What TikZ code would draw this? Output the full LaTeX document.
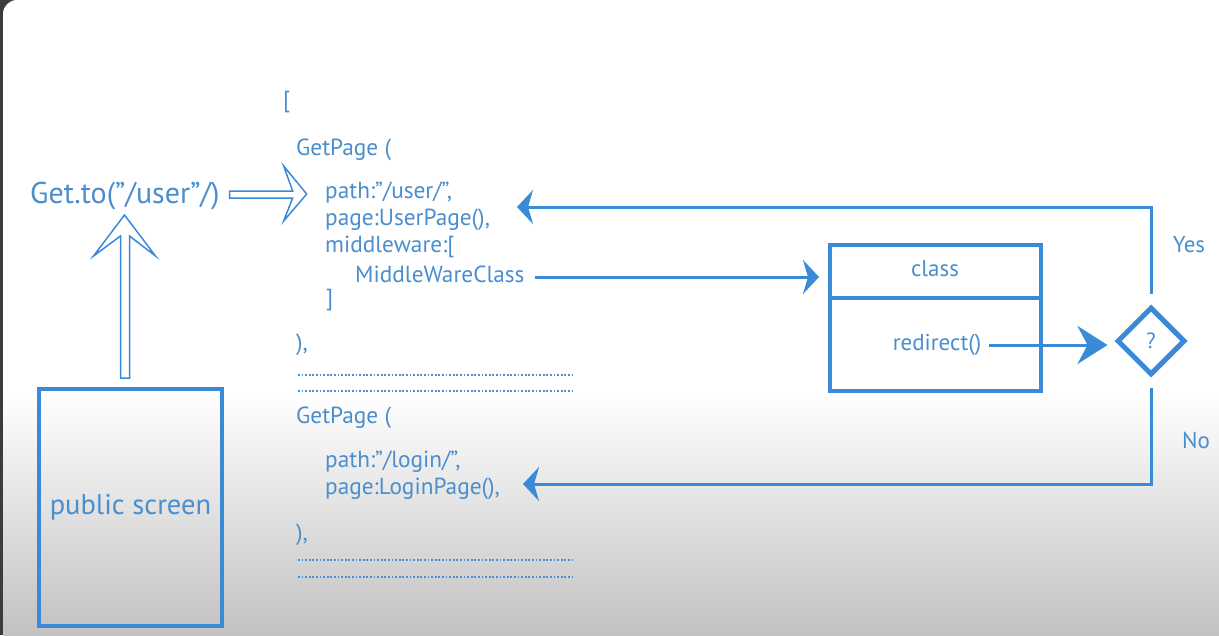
\documentclass[tikz,border=0pt]{standalone}
\usepackage{fontspec}
\setmainfont{PT Sans}
\usetikzlibrary{arrows.meta,shapes.geometric}

\definecolor{codeblue}{HTML}{4A8ECF}
\definecolor{lineblue}{HTML}{3A8AD8}
\definecolor{framegray}{HTML}{3C3C3C}

\newcommand\codefont{\fontsize{23.3}{27}\selectfont}

\tikzset{
  code/.style={anchor=west, inner sep=0pt, text=codeblue, font=\codefont},
  lbl/.style={inner sep=0pt, text=codeblue, font=\fontsize{23}{26}\selectfont},
  arr/.style={draw=lineblue, line width=3pt, -{Stealth[length=16pt,width=34pt,inset=5pt]}},
  bigarr/.style={draw=lineblue, line width=3pt, -{Stealth[length=30pt,width=38pt,inset=10pt]}},
  hollow/.style={draw=lineblue, line width=1.5pt, line join=miter},
  dots/.style={draw=codeblue, line width=2.2pt, dash pattern=on 1.8pt off 1.8pt},
}

\begin{document}
\begin{tikzpicture}[x=1pt,y=-1pt]
    \useasboundingbox (0,0) rectangle (1219,635);
    %% background of the screen
    \fill[framegray] (0,0) rectangle (20,635);
    \fill[white] (3,635) {[rounded corners=14pt] -- (3,0) -- (1219,0)} -- (1219,635) -- cycle;
    \shade[top color=white, bottom color=black!24] (3,395) rectangle (1219,635);

    %% left side
    \node[draw=lineblue, line width=4pt, minimum width=183pt, minimum height=237pt, lbl,
        font=\fontsize{28.5}{32}\selectfont] (pub) at (130.5,507.5) {public screen};
    \node[anchor=west, inner sep=0pt, text=codeblue, font=\fontsize{30}{34}\selectfont] (get) at (30,196) {Get.to(”/user”/)};
    \draw[hollow] ([xshift=-10pt,yshift=9pt]pub.north) -- ++(0,-142) -- ++(-27,20) -- ++(31,-41)
        -- ++(31,41) -- ++(-26,-20) -- ++(0,142) -- cycle;
    \draw[hollow] ([xshift=10pt,yshift=5pt]get.east) -- ++(63,0) -- ++(-9,-25) -- ++(23,28)
        -- ++(-23,27) -- ++(9,-23) -- ++(-63,0) -- cycle;

    %% route list
    \node[code] (lbr) at (283,102) {[};
    \node[code] (gp1) at (296,150) {GetPage (};
    \node[code] (path1) at (325,193) {path:”/user/”,};
    \node[code] (page1) at (325,220) {page:UserPage(),};
    \node[code] (mw) at (325,247) {middleware:[};
    \node[code] (mwc) at (355,274) {MiddleWareClass};
    \node[code] (rbr1) at (326,300) {]};
    \node[code] (cl1) at (296,345) {),};
    \draw[dots] (298,375) coordinate (d1a) -- (575,375) coordinate (d1b);
    \draw[dots] (298,391) coordinate (d2a) -- (575,391) coordinate (d2b);
    \node[code] (gp2) at (296,418) {GetPage (};
    \node[code] (path2) at (325,462) {path:”/login/”,};
    \node[code] (page2) at (325,489) {page:LoginPage(),};
    \node[code] (cl2) at (296,535) {),};
    \draw[dots] (298,560) coordinate (d3a) -- (575,560) coordinate (d3b);
    \draw[dots] (298,577) coordinate (d4a) -- (575,577) coordinate (d4b);

    %% middleware class
    \node[draw=lineblue, line width=4pt, minimum width=211pt, minimum height=146pt] (cls) at (935.5,318) {};
    \draw[draw=lineblue, line width=4pt] ([yshift=-55pt]cls.north west) -- ([yshift=-55pt]cls.north east);
    \node[lbl] (clsname) at (935,269) {class};
    \node[lbl] (redir) at (937,345) {redirect()};
    \node[diamond, aspect=1, draw=lineblue, line width=5pt, minimum size=68pt, inner sep=0pt,
        text=codeblue, font=\fontsize{22}{24}\selectfont] (q) at (1151,341) {?};
    \node[lbl] (yes) at (1189,245) {Yes};
    \node[lbl] (no) at (1196,440) {No};
    \coordinate (yestip) at (517,207);
    \coordinate (notip) at (523,484);

    \draw[arr, shorten >=9pt] ([xshift=10pt,yshift=-3pt]mwc.east) -- ([yshift=-3pt]mwc.east -| cls.west);
    \draw[bigarr] ([xshift=8pt]redir.east) -- ([xshift=-7pt]redir.east -| q.west);
    \draw[arr] ([yshift=11pt]q.north) |- (yestip);
    \draw[arr] ([yshift=-10pt]q.south) |- (notip);
\end{tikzpicture}
\end{document}
